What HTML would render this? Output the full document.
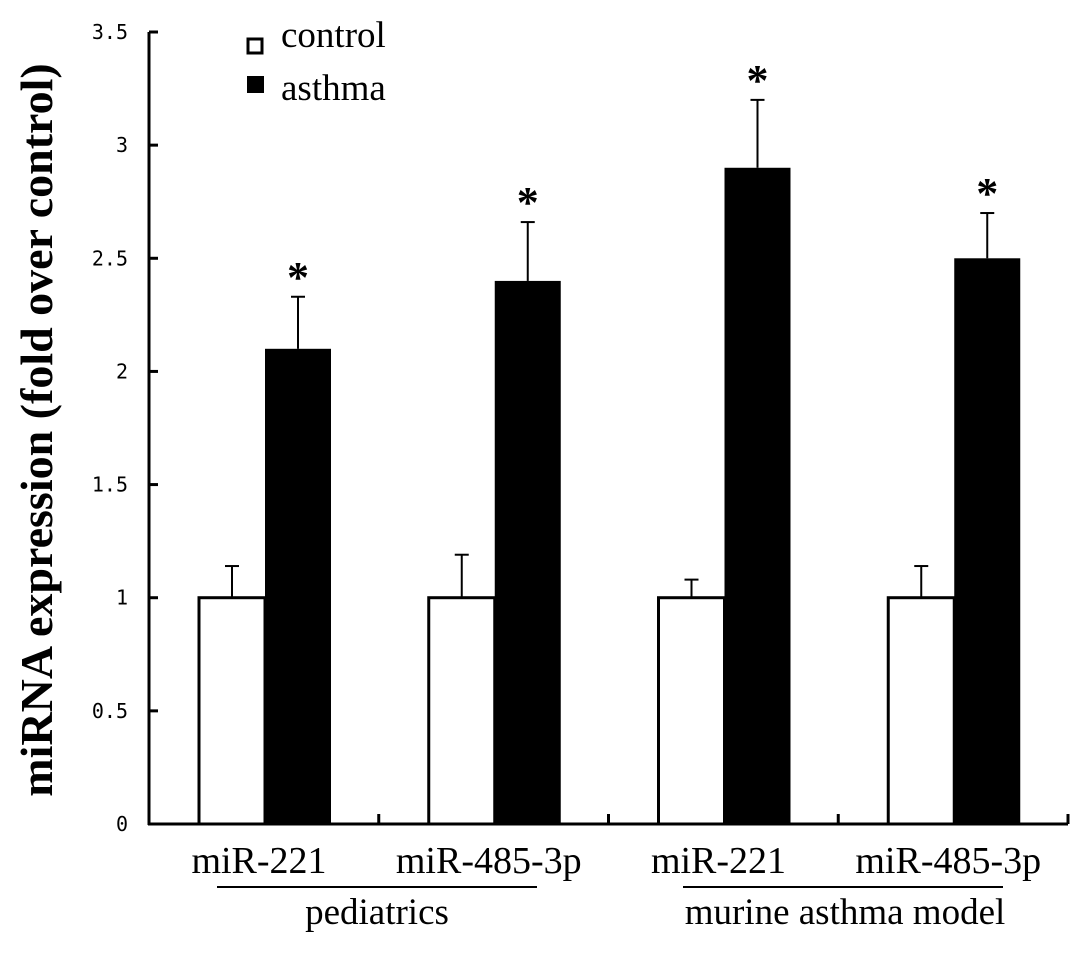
<!DOCTYPE html>
<html><head><meta charset="utf-8"><style>
body{margin:0;background:#fff}
svg text{font-family:"Liberation Serif",serif}
</style></head><body>
<svg id="chart" width="1087" height="951" viewBox="0 0 1087 951" xmlns="http://www.w3.org/2000/svg">
<g id="axes"></g><g id="bars"></g>
<text transform="translate(52,430) rotate(-90)" text-anchor="middle" font-size="46" font-weight="bold">miRNA expression (fold over control)</text>
<g>
<rect x="248" y="39" width="14" height="14" fill="#fff" stroke="#000" stroke-width="3"/>
<text x="281" y="47" font-size="37">control</text>
<rect x="247" y="76" width="17" height="17" fill="#000"/>
<text x="281" y="100" font-size="37">asthma</text>
</g>
<line x1="217" y1="887" x2="537" y2="887" stroke="#000" stroke-width="2"/>
<line x1="683" y1="887" x2="1003" y2="887" stroke="#000" stroke-width="2"/>
<text x="377" y="924" font-size="37" text-anchor="middle">pediatrics</text>
<text x="845" y="924" font-size="37" text-anchor="middle">murine asthma model</text>
</svg>
<script>
const categories=["miR-221","miR-485-3p","miR-221","miR-485-3p"];
const controlValues=[1,1,1,1];
const controlErrors=[0.14,0.19,0.08,0.14];
const asthmaValues=[2.1,2.4,2.9,2.5];
const asthmaErrors=[0.23,0.26,0.3,0.2];
const yTicks=[0,0.5,1,1.5,2,2.5,3,3.5];
const yTickLabels=["0","0.5","1","1.5","2","2.5","3","3.5"];
const NS="http://www.w3.org/2000/svg";
const x0=149,x1=1068,y0=824,yTop=32,yMax=3.5;
const gw=(x1-x0)/categories.length;
function y(v){return y0-(v/yMax)*(y0-yTop);}
function mk(tag,attrs,parent){const e=document.createElementNS(NS,tag);for(const k in attrs)e.setAttribute(k,attrs[k]);parent.appendChild(e);return e;}
const axes=document.getElementById('axes'),bars=document.getElementById('bars');
let a=mk('line',{x1:x0,y1:yTop,x2:x0,y2:y0+1,stroke:'#000','stroke-width':3},axes);


a=mk('line',{x1:x0-1,y1:y0,x2:x1,y2:y0,stroke:'#000','stroke-width':3},axes);


yTicks.forEach((t,i)=>{
 const tk=mk('line',{x1:x0,y1:y(t),x2:x0+9,y2:y(t),stroke:'#000','stroke-width':3},axes);
 
 
 const lb=mk('text',{x:128,y:y(t)+7,'font-size':20,'text-anchor':'end',style:'font-family:"DejaVu Sans Mono",monospace'},axes);
 lb.textContent=yTickLabels[i];
 
 
});
for(let i=1;i<=categories.length;i++){
 const tk=mk('line',{x1:x0+gw*i,y1:y0,x2:x0+gw*i,y2:y0-10,stroke:'#000','stroke-width':3},axes);
 
 
}
const bw=66;
function errBar(cx,v,e,name){
 const g=mk('g',{},bars);
 
 
 mk('line',{x1:cx,y1:y(v),x2:cx,y2:y(v+e),stroke:'#000','stroke-width':2},g);
 mk('line',{x1:cx-7,y1:y(v+e),x2:cx+7,y2:y(v+e),stroke:'#000','stroke-width':2},g);
}
categories.forEach((c,i)=>{
 const gx=x0+gw*i+50;
 errBar(gx+bw/2,controlValues[i],controlErrors[i],'error-bar-control');
 errBar(gx+bw*1.5,asthmaValues[i],asthmaErrors[i],'error-bar-asthma');
 const r1=mk('rect',{x:gx,y:y(controlValues[i]),width:bw,height:y0-y(controlValues[i]),fill:'#fff',stroke:'#000','stroke-width':3},bars);
 
 
 const r2=mk('rect',{x:gx+bw,y:y(asthmaValues[i]),width:bw,height:y0-y(asthmaValues[i]),fill:'#000'},bars);
 
 
 const st=mk('text',{x:gx+bw*1.5,y:y(asthmaValues[i]+asthmaErrors[i])-5,'font-size':44,'font-weight':'bold','text-anchor':'middle'},bars);
 st.textContent='*';
 
 
 const lb=mk('text',{x:gx+bw-6,y:873,'font-size':38,'text-anchor':'middle'},bars);
 lb.textContent=c;
 
 
});
</script>
</body></html>
